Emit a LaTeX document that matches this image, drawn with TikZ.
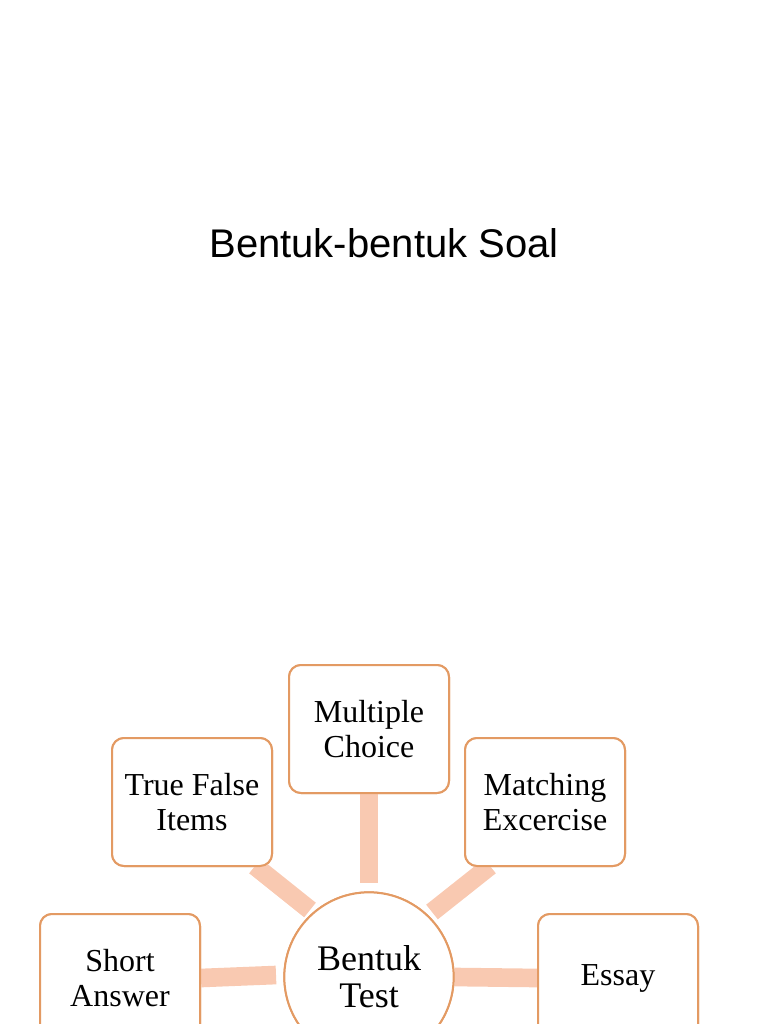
\documentclass[tikz,border=0pt]{standalone}
\usepackage{fontspec}
\setmainfont{Liberation Serif}
\newfontfamily\titlefont{Liberation Sans}
\definecolor{boxline}{HTML}{E39A63}
\definecolor{bar}{HTML}{F9C9B1}
\begin{document}
\begin{tikzpicture}[x=0.75pt,y=-0.75pt,
  item/.style={draw=boxline,line width=1.5pt,rounded corners=9pt,fill=white,
    minimum width=120pt,minimum height=96pt,align=center,font=\fontsize{24}{26}\selectfont,inner sep=0pt},
  hub/.style={draw=boxline,line width=1.5pt,circle,fill=white,minimum size=127pt,
    align=center,font=\fontsize{27}{28}\selectfont,inner sep=0pt},
  link/.style={draw=bar,line width=14pt}]
\useasboundingbox (0,0) rectangle (768,1024);
\clip (0,0) rectangle (768,1024);
\node[font=\titlefont\fontsize{30}{32}\selectfont] (title) at (384,243) {Bentuk-bentuk Soal};
\node[hub] (c) at (369,977) {Bentuk\\Test};
\node[item] (mc) at (369,729) {Multiple\\Choice};
\node[item] (tf) at (192,802) {True False\\Items};
\node[item] (me) at (545,802) {Matching\\Excercise};
\node[item] (sa) at (120,978) {Short\\Answer};
\node[item] (es) at (618,978) {Essay};
\begin{scope}[on background layer/.try]
\end{scope}
\draw[link] (mc.south) -- ([yshift=6pt]c.north);
\draw[link] (255,866) -- (310,910);
\draw[link] (490,866) -- (432,912);
\draw[link] (sa.east) -- (276,975);
\draw[link] (c.east) -- (es.west);
\node[hub] at (c) {Bentuk\\Test};
\node[item] at (mc) {Multiple\\Choice};
\node[item] at (tf) {True False\\Items};
\node[item] at (me) {Matching\\Excercise};
\node[item] at (sa) {Short\\Answer};
\node[item] at (es) {Essay};
\end{tikzpicture}
\end{document}
